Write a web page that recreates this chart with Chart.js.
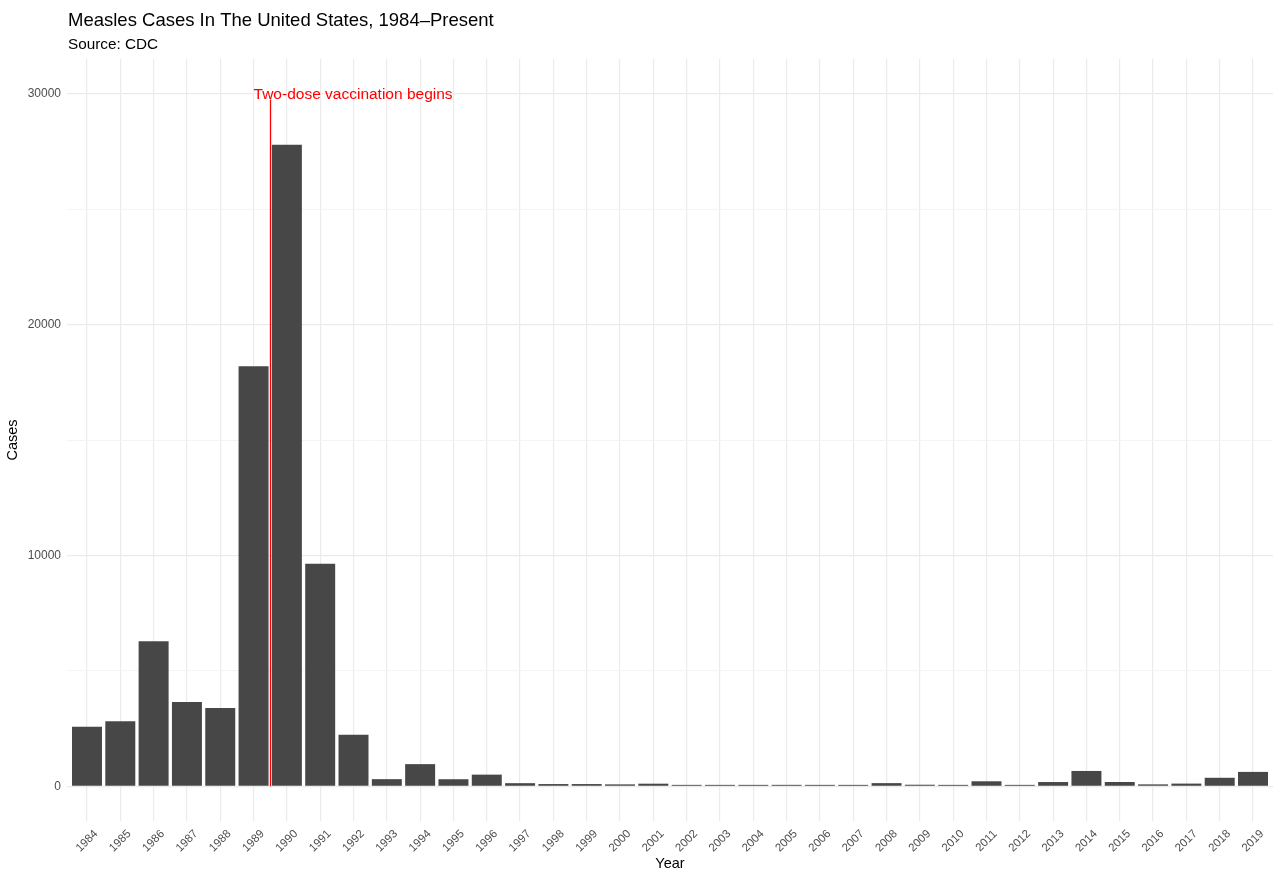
<!DOCTYPE html>
<html>
<head>
<meta charset="utf-8">
<title>Measles Cases In The United States</title>
<script src="https://cdn.jsdelivr.net/npm/chart.js@4.4.1/dist/chart.umd.min.js"></script>
<style>
  html, body { margin: 0; padding: 0; background: #fff; }
  #wrap { width: 1274px; height: 870px; position: relative; }
</style>
</head>
<body>
<div id="wrap"><canvas id="measlesChart" width="1274" height="870"></canvas></div>
<script>
const years = ['1984', '1985', '1986', '1987', '1988', '1989', '1990', '1991', '1992', '1993',
  '1994', '1995', '1996', '1997', '1998', '1999', '2000', '2001', '2002', '2003',
  '2004', '2005', '2006', '2007', '2008', '2009', '2010', '2011', '2012', '2013',
  '2014', '2015', '2016', '2017', '2018', '2019'];
const cases = [2587, 2822, 6282, 3655, 3396, 18193, 27786, 9643, 2237, 312,
  963, 309, 508, 138, 100, 100, 86, 116, 44, 56,
  37, 66, 55, 43, 140, 71, 63, 220, 55, 187,
  667, 188, 86, 120, 372, 626];
const yTicks = [0, 5000, 10000, 15000, 20000, 25000, 30000];
const annotationYear = '1989';
const annotationText = 'Two-dose vaccination begins';
const annotationY = 30000;

const FONT = '"Liberation Sans", Arial, Helvetica, sans-serif';

// titles, rotated year labels, axis titles and the red marker line
const decorations = {
    id: 'decorations',
    afterDatasetsDraw(chart) {
        const { ctx, scales: { x, y }, chartArea } = chart;
        const idx = years.indexOf(annotationYear);
        ctx.save();

        // vertical marker between 1989 and 1990
        ctx.strokeStyle = '#ff0000';
        ctx.lineWidth = 1.3;
        const lx = Math.round(x.getPixelForValue(idx + 0.5)) + 0.5;
        ctx.beginPath();
        ctx.moveTo(lx, y.getPixelForValue(0));
        ctx.lineTo(lx, y.getPixelForValue(annotationY - 250));
        ctx.stroke();

        ctx.fillStyle = '#ff0000';
        ctx.font = '15.5px ' + FONT;
        ctx.textAlign = 'left';
        ctx.textBaseline = 'middle';
        ctx.fillText(annotationText, x.getPixelForValue(idx), y.getPixelForValue(annotationY) + 1);

        // titles
        ctx.fillStyle = '#000';
        ctx.textBaseline = 'alphabetic';
        ctx.font = '18.5px ' + FONT;
        ctx.fillText('Measles Cases In The United States, 1984\u2013Present', 68, 26);
        ctx.font = '15.3px ' + FONT;
        ctx.fillText('Source: CDC', 68, 49);

        // x tick labels rotated 45 degrees, centred under each bar
        ctx.fillStyle = '#4d4d4d';
        ctx.font = '11.5px ' + FONT;
        ctx.textAlign = 'center';
        ctx.textBaseline = 'middle';
        years.forEach((yr, i) => {
            ctx.save();
            ctx.translate(x.getPixelForValue(i), 841);
            ctx.rotate(-Math.PI / 4);
            ctx.fillText(yr, 0, 0);
            ctx.restore();
        });

        // axis titles
        ctx.fillStyle = '#000';
        ctx.font = '14.5px ' + FONT;
        ctx.fillText('Year', (chartArea.left + chartArea.right) / 2, 864);
        ctx.save();
        ctx.translate(13, (chartArea.top + chartArea.bottom) / 2);
        ctx.rotate(-Math.PI / 2);
        ctx.fillText('Cases', 0, 0);
        ctx.restore();

        ctx.restore();
    }
};

new Chart(document.getElementById('measlesChart'), {
    type: 'bar',
    data: {
        datasets: [{
            label: 'Cases',
            data: cases.map((v, i) => ({ x: i, y: v })),
            backgroundColor: '#474747',
            borderWidth: 0,
            minBarLength: 1.5,
            barPercentage: 0.9,
            categoryPercentage: 1.0
        }]
    },
    options: {
        responsive: false,
        animation: false,
        layout: { padding: { top: 59, right: 1, left: 0, bottom: 0 } },
        plugins: {
            legend: { display: false },
            tooltip: { enabled: false }
        },
        scales: {
            x: {
                type: 'linear',
                offset: false,
                min: -0.6,
                max: years.length - 1 + 0.6,
                afterBuildTicks: (s) => { s.ticks = years.map((_, i) => ({ value: i })); },
                afterFit: (s) => { s.height = 49; },
                grid: { offset: false, color: '#ebebeb', lineWidth: 1.2, drawTicks: false },
                border: { display: false },
                ticks: { display: false }
            },
            y: {
                min: -1500,
                max: 31500,
                afterBuildTicks: (s) => { s.ticks = yTicks.map(v => ({ value: v })); },
                afterFit: (s) => { s.width = 67; },
                grid: {
                    color: (c) => (c.tick && c.tick.value % 10000 === 0) ? '#ebebeb' : '#f4f4f4',
                    lineWidth: (c) => (c.tick && c.tick.value % 10000 === 0) ? 1.2 : 1,
                    drawTicks: false
                },
                border: { display: false },
                ticks: {
                    padding: 6,
                    color: '#4d4d4d',
                    font: { family: FONT, size: 12 },
                    callback: (v) => (v % 10000 === 0 ? String(v) : '')
                }
            }
        }
    },
    plugins: [decorations]
});
</script>
</body>
</html>
